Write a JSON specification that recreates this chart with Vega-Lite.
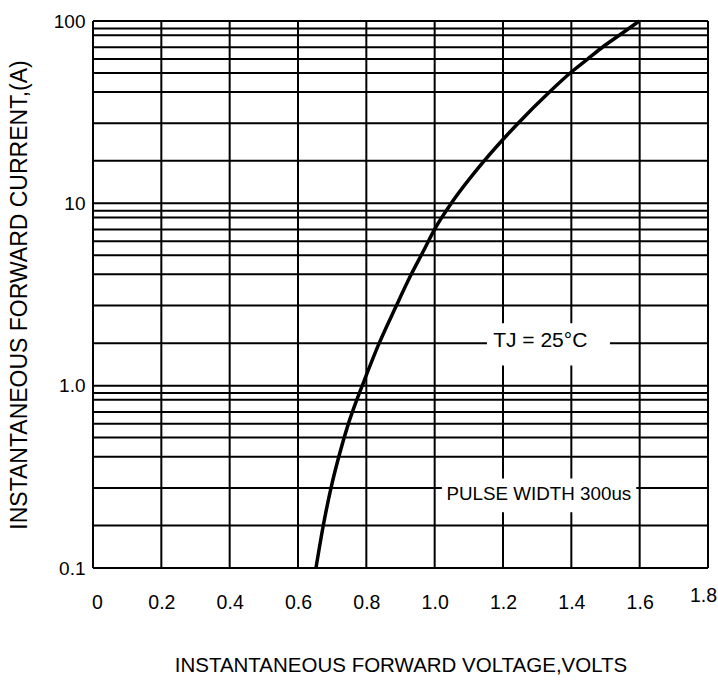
{
  "$schema": "https://vega.github.io/schema/vega-lite/v6.json",
  "autosize": "none",
  "width": 615,
  "height": 547,
  "padding": {"left": 93, "top": 21, "right": 10, "bottom": 112},
  "background": "white",
  "config": {
    "view": {"stroke": null},
    "font": "Liberation Sans",
    "axis": {"labelFont": "Liberation Sans", "titleFont": "Liberation Sans", "labelColor": "black", "titleColor": "black", "titleFontWeight": "normal", "grid": false, "domain": false, "ticks": false, "labelFlush": false}
  },
  "datasets": {
    "curve": [
      {"v": 0.6526, "i": 0.1},
      {"v": 0.674, "i": 0.171},
      {"v": 0.697, "i": 0.277},
      {"v": 0.7196, "i": 0.409},
      {"v": 0.748, "i": 0.623},
      {"v": 0.772, "i": 0.836},
      {"v": 0.788, "i": 1.0},
      {"v": 0.837, "i": 1.7},
      {"v": 0.886, "i": 2.7},
      {"v": 0.9315, "i": 4.08},
      {"v": 0.9667, "i": 5.46},
      {"v": 0.9994, "i": 7.18},
      {"v": 1.0486, "i": 10},
      {"v": 1.145, "i": 17.1},
      {"v": 1.245, "i": 27.6},
      {"v": 1.336, "i": 40.8},
      {"v": 1.4, "i": 52.5},
      {"v": 1.4457, "i": 61.4},
      {"v": 1.492, "i": 72},
      {"v": 1.5446, "i": 84.6},
      {"v": 1.599, "i": 100}
    ],
    "hgrid": [
      {"i": 0.1}, {"i": 0.171}, {"i": 0.275}, {"i": 0.408}, {"i": 0.519}, {"i": 0.619}, {"i": 0.718}, {"i": 0.836}, {"i": 0.911},
      {"i": 1}, {"i": 1.71}, {"i": 2.75}, {"i": 4.08}, {"i": 5.19}, {"i": 6.19}, {"i": 7.18}, {"i": 8.36}, {"i": 9.11},
      {"i": 10}, {"i": 17.1}, {"i": 27.5}, {"i": 40.8}, {"i": 51.9}, {"i": 61.9}, {"i": 71.8}, {"i": 83.6}, {"i": 91.1},
      {"i": 100}
    ],
    "vgrid": [
      {"v": 0}, {"v": 0.2}, {"v": 0.4}, {"v": 0.6}, {"v": 0.8}, {"v": 1.0}, {"v": 1.2}, {"v": 1.4}, {"v": 1.6}, {"v": 1.8}
    ],
    "boxes": [
      {"v1": 1.153, "v2": 1.513, "i1": 1.29, "i2": 2.2},
      {"v1": 1.021, "v2": 1.59, "i1": 0.202, "i2": 0.31}
    ],
    "notes": [
      {"v": 1.309, "i": 1.75, "label": "TJ = 25°C"},
      {"v": 1.305, "i": 0.254, "label": "PULSE WIDTH 300us"}
    ]
  },
  "layer": [
    {
      "data": {"name": "hgrid"},
      "mark": {"type": "rule", "color": "black", "strokeWidth": 2},
      "encoding": {
        "y": {
          "field": "i", "type": "quantitative",
          "scale": {"type": "log", "domain": [0.1, 100]},
          "axis": {
            "values": [0.1, 1, 10, 100],
            "labelExpr": "datum.value == 0.1 ? '0.1' : (datum.value == 1 ? '1.0' : format(datum.value, 'd'))",
            "labelFontSize": 19,
            "labelPadding": 8,
            "title": "INSTANTANEOUS FORWARD CURRENT,(A)",
            "titleFontSize": 23,
            "titlePadding": 22
          }
        }
      }
    },
    {
      "data": {"name": "vgrid"},
      "mark": {"type": "rule", "color": "black", "strokeWidth": 2},
      "encoding": {
        "x": {
          "field": "v", "type": "quantitative",
          "scale": {"domain": [0, 1.8], "nice": false, "zero": false},
          "axis": {
            "values": [0, 0.2, 0.4, 0.6, 0.8, 1.0, 1.2, 1.4, 1.6, 1.8],
            "labelExpr": "datum.value == 0 ? '0' : format(datum.value, '.1f')",
            "labelFontSize": 19.5,
            "labelPadding": {"condition": {"test": "datum.value == 1.8", "value": 18}, "value": 25},
            "labelOffset": {"condition": [{"test": "datum.value == 1.8", "value": -5}, {"test": "datum.value == 0", "value": 4}], "value": 0},
            "title": "INSTANTANEOUS FORWARD VOLTAGE,VOLTS",
            "titleFontSize": 20.5,
            "titlePadding": 44
          }
        }
      }
    },
    {
      "data": {"name": "boxes"},
      "mark": {"type": "rect", "fill": "white", "stroke": null},
      "encoding": {
        "x": {"field": "v1", "type": "quantitative"},
        "x2": {"field": "v2"},
        "y": {"field": "i1", "type": "quantitative"},
        "y2": {"field": "i2"}
      }
    },
    {
      "data": {"name": "notes"},
      "transform": [{"filter": "datum.label == 'TJ = 25°C'"}],
      "mark": {"type": "text", "fontSize": 21, "font": "Liberation Sans", "color": "black", "baseline": "middle", "align": "center"},
      "encoding": {
        "x": {"field": "v", "type": "quantitative"},
        "y": {"field": "i", "type": "quantitative"},
        "text": {"field": "label"}
      }
    },
    {
      "data": {"name": "notes"},
      "transform": [{"filter": "datum.label == 'PULSE WIDTH 300us'"}],
      "mark": {"type": "text", "fontSize": 18.8, "font": "Liberation Sans", "color": "black", "baseline": "middle", "align": "center"},
      "encoding": {
        "x": {"field": "v", "type": "quantitative"},
        "y": {"field": "i", "type": "quantitative"},
        "text": {"field": "label"}
      }
    },
    {
      "data": {"name": "curve"},
      "mark": {"type": "line", "color": "black", "strokeWidth": 3.5, "interpolate": "monotone"},
      "encoding": {
        "x": {"field": "v", "type": "quantitative"},
        "y": {"field": "i", "type": "quantitative"}
      }
    }
  ]
}
